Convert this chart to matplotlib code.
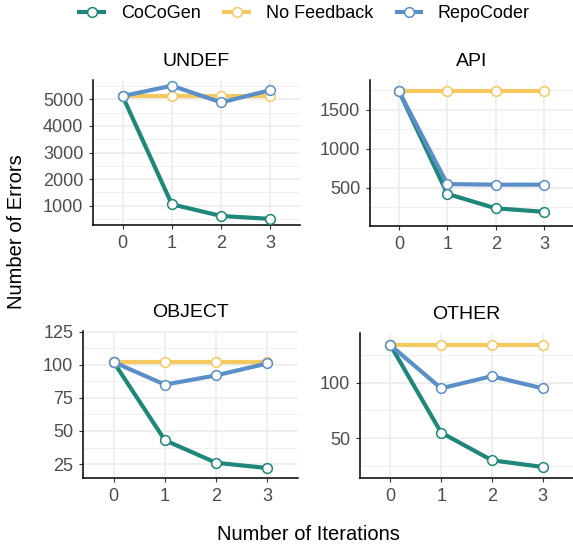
import matplotlib
matplotlib.use('Agg')
import matplotlib.pyplot as plt
from matplotlib.ticker import MultipleLocator

plt.rcParams['font.family'] = ['Liberation Sans', 'DejaVu Sans']

iterations = [0, 1, 2, 3]
methods = ['CoCoGen', 'No Feedback', 'RepoCoder']
colors = {'CoCoGen': '#1F877A', 'No Feedback': '#F4C960', 'RepoCoder': '#5B8FC8'}

undef = {'CoCoGen': [5125, 1050, 610, 500],
         'No Feedback': [5125, 5125, 5125, 5125],
         'RepoCoder': [5125, 5515, 4885, 5350]}
api = {'CoCoGen': [1735, 420, 235, 190],
       'No Feedback': [1735, 1735, 1735, 1735],
       'RepoCoder': [1735, 545, 538, 538]}
obj = {'CoCoGen': [102, 43, 26, 22],
       'No Feedback': [102, 102, 102, 102],
       'RepoCoder': [102, 85, 92, 101]}
other = {'CoCoGen': [134, 55, 30, 24],
         'No Feedback': [134, 134, 134, 134],
         'RepoCoder': [134, 95, 106, 95]}

W, H = 573, 546
fig = plt.figure(figsize=(W / 100, H / 100), dpi=100)

def box(x0, y0, x1, y1):
    return [x0 / W, 1 - y1 / H, (x1 - x0) / W, (y1 - y0) / H]

panels = [
    ('UNDEF', undef, box(93, 80, 300, 225), (270, 5730), 1000),
    ('API', api, box(370, 80, 573, 226), (8, 1880), 500),
    ('OBJECT', obj, box(83, 331, 298, 478), (14.5, 125.5), 25),
    ('OTHER', other, box(360, 333, 573, 478), (14, 145), 50),
]

for title, data, rect, ylim, step in panels:
    ax = fig.add_axes(rect)
    for m in methods:
        ax.plot(iterations, data[m], color=colors[m], lw=3, marker='o', ms=7,
                mfc='white', mec=colors[m], mew=1.1, label=m, zorder=3,
                solid_capstyle='butt')
    ax.set_xlim(-0.6, 3.6)
    ax.set_ylim(*ylim)
    ax.set_xticks(iterations)
    ax.yaxis.set_major_locator(MultipleLocator(step))
    ax.yaxis.set_minor_locator(MultipleLocator(step / 2))
    ax.grid(True, which='major', color='#EBEBEB', lw=1.1, zorder=0)
    ax.grid(True, which='minor', axis='y', color='#EBEBEB', lw=0.55, zorder=0)
    for s in ['top', 'right']:
        ax.spines[s].set_visible(False)
    for s in ['left', 'bottom']:
        ax.spines[s].set_linewidth(1.1)
    ax.tick_params(which='major', length=3, width=0.8, color='#333333',
                   labelsize=13, labelcolor='#4D4D4D', pad=4)
    ax.tick_params(which='minor', length=0)
    ax.set_title(title, fontsize=14, pad=10)
    ax.set_axisbelow(True)

handles, labels = ax.get_legend_handles_labels()
fig.legend(handles, labels, loc='center', bbox_to_anchor=(0.53, 1 - 14 / H),
           ncol=3, frameon=False, fontsize=13, handlelength=1.6,
           columnspacing=1.2, handletextpad=0.8)

fig.text(17 / W, 1 - 232 / H, 'Number of Errors', rotation=90,
         ha='center', va='center', fontsize=14.5)
fig.text(308 / W, 1 - 535 / H, 'Number of Iterations',
         ha='center', va='center', fontsize=14.5)

fig.savefig('out.png', dpi=100)
